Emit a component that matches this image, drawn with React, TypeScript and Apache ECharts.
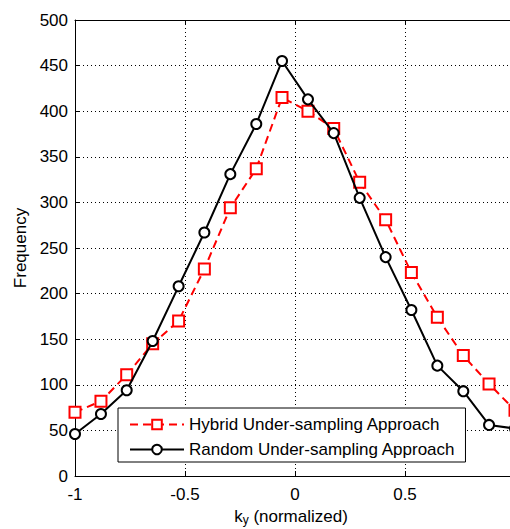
import React, { useEffect, useRef } from "react";
import * as echarts from "echarts";

const xValues = [
  -1, -0.882, -0.765, -0.647, -0.529, -0.412, -0.294, -0.176, -0.059,
  0.059, 0.176, 0.294, 0.412, 0.529, 0.647, 0.765, 0.882, 1,
];
const hybrid = [70, 82, 111, 145, 170, 227, 294, 337, 415, 400, 381, 322, 281, 223, 174, 132, 101, 72];
const random = [46, 68, 94, 148, 208, 267, 331, 386, 455, 413, 376, 305, 240, 182, 121, 93, 56, 52];
const seriesNames = ["Hybrid Under-sampling Approach", "Random Under-sampling Approach"];
const xTicks = [-1, -0.5, 0, 0.5, 1];
const yTicks = [0, 50, 100, 150, 200, 250, 300, 350, 400, 450, 500];

const FONT = "Liberation Sans, Arial, sans-serif";
const FS = 17;

export default function App() {
  const ref = useRef<HTMLDivElement>(null);
  useEffect(() => {
    if (!ref.current) return;
    const chart = echarts.init(ref.current, undefined, { renderer: "svg" });
    const axisCommon = {
      axisLine: { show: true, onZero: false, lineStyle: { color: "#000", width: 1 } },
      axisTick: { show: true, inside: true, length: 5, lineStyle: { color: "#000" } },
      splitLine: { show: true, lineStyle: { color: "#000", type: [1, 3], width: 1 } },
      axisLabel: { color: "#000", fontSize: FS, fontFamily: FONT },
    };
    chart.setOption({
      animation: false,
      backgroundColor: "#fff",
      textStyle: { fontFamily: FONT },
      grid: {
        left: 75,
        top: 20,
        right: -5,
        bottom: 53,
        containLabel: false,
        outerBoundsMode: "none",
      },
      xAxis: [
        {
          type: "value",
          min: xTicks[0],
          max: xTicks[xTicks.length - 1],
          interval: 0.5,
          ...axisCommon,
          axisLabel: { ...axisCommon.axisLabel, margin: 10, showMaxLabel: false },
          name: "{k|k}{sub|y} (normalized)",
          nameLocation: "middle",
          nameGap: 22,
          nameTextStyle: {
            color: "#000",
            fontSize: FS,
            fontFamily: FONT,
            padding: [0, 8, 0, 0],
            rich: {
              k: { fontSize: FS, color: "#000", fontFamily: FONT },
              sub: { fontSize: 12, color: "#000", fontFamily: FONT, padding: [8, 0, 0, 0] },
            },
          },
        },
        {
          type: "value",
          position: "top",
          min: xTicks[0],
          max: xTicks[xTicks.length - 1],
          interval: 0.5,
          axisLine: { show: true, onZero: false, lineStyle: { color: "#000", width: 1 } },
          axisTick: { show: true, inside: true, length: 5, lineStyle: { color: "#000" } },
          axisLabel: { show: false },
          splitLine: { show: false },
        },
      ],
      yAxis: {
        type: "value",
        min: yTicks[0],
        max: yTicks[yTicks.length - 1],
        interval: 50,
        ...axisCommon,
        axisLabel: { ...axisCommon.axisLabel, margin: 7 },
        name: "Frequency",
        nameLocation: "middle",
        nameGap: 35,
        nameTextStyle: { color: "#000", fontSize: FS, fontFamily: FONT },
      },
      legend: {
        left: 118,
        top: 408,
        orient: "vertical",
        backgroundColor: "#fff",
        borderColor: "#000",
        borderWidth: 1,
        borderRadius: 0,
        padding: [8, 10, 4, 11],
        itemWidth: 54,
        itemHeight: 12,
        itemGap: 8,
        textStyle: { color: "#000", fontSize: FS, fontFamily: FONT },
        data: seriesNames,
      },
      series: [
        {
          name: seriesNames[0],
          type: "line",
          data: xValues.map((x, i) => [x, hybrid[i]]),
          symbol: "emptyRect",
          symbolSize: 11,
          lineStyle: { color: "#ff0000", width: 2, type: [8, 5] },
          itemStyle: { color: "#ff0000", borderWidth: 2 },
          z: 3,
        },
        {
          name: seriesNames[1],
          type: "line",
          data: xValues.map((x, i) => [x, random[i]]),
          symbol: "emptyCircle",
          symbolSize: 10,
          lineStyle: { color: "#000", width: 2 },
          itemStyle: { color: "#000", borderWidth: 2 },
          z: 4,
        },
      ],
    });
    return () => chart.dispose();
  }, []);
  return (
    <div
      ref={ref}
      style={{ position: "fixed", left: 0, top: 0, width: 510, height: 529, background: "#fff" }}
    />
  );
}
